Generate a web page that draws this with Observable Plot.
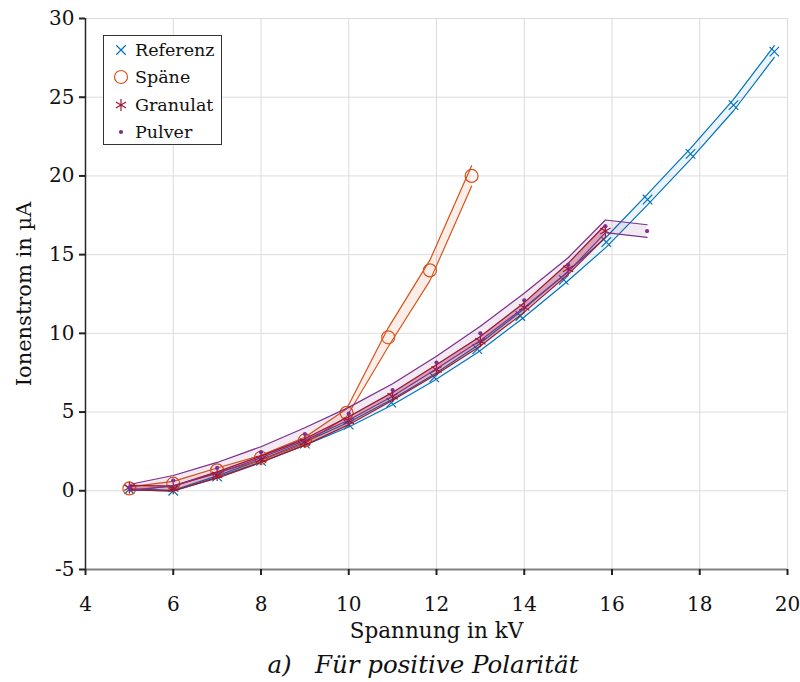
<!DOCTYPE html>
<html>
<head>
<meta charset="utf-8">
<script src="https://cdn.jsdelivr.net/npm/d3@7"></script>
<script src="https://cdn.jsdelivr.net/npm/@observablehq/plot@0.6"></script>
<style>
  body { margin: 0; background: #fff; font-family: "DejaVu Serif", serif; }
  #wrap { position: relative; width: 800px; height: 682px; }
  #legend { position: absolute; left: 103px; top: 35px; width: 117px; height: 108px;
            border: 1px solid #333; background: #fff; }
  .item { position: absolute; left: 0; height: 20px; display: flex; align-items: center; }
  .item span { font-size: 17.5px; color: #111; margin-left: 5px; }
  #caption { position: absolute; top: 650px; left: 0; width: 846px; text-align: center;
             font-style: italic; font-size: 24.5px; color: #111; }
</style>
</head>
<body>
<div id="wrap">
  <div id="chart"></div>
  <div id="legend"></div>
  <div id="caption">a)&nbsp;&nbsp;&nbsp;Für positive Polarität</div>
</div>
<script>
// ---- data ----
const series = ["Referenz", "Späne", "Granulat", "Pulver"];

const refX   = [5, 6, 7, 8, 9, 10, 10.97, 11.95, 12.93, 13.91, 14.9, 15.87, 16.81, 17.79, 18.77, 19.7];
const refY   = [0.1, 0.0, 0.9, 1.9, 3.0, 4.2, 5.6, 7.2, 9.0, 11.1, 13.4, 15.8, 18.5, 21.4, 24.5, 27.9];
const refErr = [0.03, 0.03, 0.05, 0.07, 0.1, 0.15, 0.18, 0.2, 0.23, 0.27, 0.3, 0.32, 0.34, 0.35, 0.36, 0.37];

const spX   = [5, 6, 7, 8, 9, 9.95, 10.9, 11.85, 12.8];
const spY   = [0.15, 0.45, 1.3, 2.1, 3.2, 4.95, 9.75, 14.0, 20.0];
const spErr = [0.1, 0.15, 0.15, 0.15, 0.2, 0.25, 0.6, 0.65, 0.65];

const grX   = [5, 6, 7, 8, 9, 10, 11, 12, 13, 14, 15, 15.85];
const grY   = [0.2, 0.15, 1.0, 2.0, 3.1, 4.45, 6.0, 7.7, 9.5, 11.65, 14.1, 16.5];
const grErr = [0.15, 0.15, 0.2, 0.2, 0.2, 0.25, 0.25, 0.3, 0.3, 0.3, 0.35, 0.4];

const puX   = [5, 6, 7, 8, 9, 10, 11, 12, 13, 14, 15, 15.85, 16.8];
const puY   = [0.2, 0.65, 1.45, 2.45, 3.6, 4.9, 6.4, 8.15, 10.0, 12.1, 14.35, 16.8, 16.5];
const puErr = [0.2, 0.32, 0.35, 0.35, 0.4, 0.4, 0.4, 0.4, 0.45, 0.45, 0.45, 0.4, 0.4];

const xTicks = [4, 6, 8, 10, 12, 14, 16, 18, 20];
const yTicks = [-5, 0, 5, 10, 15, 20, 25, 30];

// ---- styles ----
const styles = {
  "Referenz": { stroke: "#0072BD", fill: "rgba(0,114,189,0.08)", symbol: "times",    r: 4.4, mfill: "none" },
  "Späne":    { stroke: "#D95319", fill: "rgba(217,83,25,0.10)", symbol: "circle",   r: 6.5, mfill: "none" },
  "Granulat": { stroke: "#A2142F", fill: "rgba(162,20,47,0.32)", symbol: "asterisk", r: 5.6, mfill: "none" },
  "Pulver":   { stroke: "#7E2F8E", fill: "rgba(126,47,142,0.10)", symbol: "circle",  r: 2.1, mfill: "#7E2F8E" }
};

function rows(name, xs, ys, es) {
  return xs.map((x, i) => ({ s: name, x, y: ys[i], lo: ys[i] - es[i], hi: ys[i] + es[i] }));
}
const data = {
  "Referenz": rows("Referenz", refX, refY, refErr),
  "Späne": rows("Späne", spX, spY, spErr),
  "Granulat": rows("Granulat", grX, grY, grErr),
  "Pulver": rows("Pulver", puX, puY, puErr)
};

const marks = [
  Plot.gridX(xTicks, { stroke: "#dcdcdc", strokeOpacity: 1, strokeWidth: 1 }),
  Plot.gridY(yTicks, { stroke: "#dcdcdc", strokeOpacity: 1, strokeWidth: 1 })
];
for (const name of series) {
  const st = styles[name], d = data[name];
  marks.push(Plot.areaY(d, { x: "x", y1: "lo", y2: "hi", fill: st.fill }));
  marks.push(Plot.line(d, { x: "x", y: "lo", stroke: st.stroke, strokeWidth: 1.2 }));
  marks.push(Plot.line(d, { x: "x", y: "hi", stroke: st.stroke, strokeWidth: 1.2 }));
  if (name === "Pulver") {
    marks.push(Plot.dot(d, { x: "x", y: "y", r: st.r, fill: st.mfill, stroke: "none" }));
  } else {
    marks.push(Plot.dot(d, { x: "x", y: "y", symbol: st.symbol, r: st.r, stroke: st.stroke, fill: "none", strokeWidth: 1.2 }));
  }
}
marks.push(Plot.ruleY([-5], { stroke: "#808080", strokeWidth: 2 }));
marks.push(Plot.ruleX([4], { stroke: "#262626", strokeWidth: 1.5 }));
marks.push(Plot.axisX(xTicks, { tickSize: 6, tickPadding: 21, fontSize: 20, label: null, stroke: "#222", strokeWidth: 2 }));
marks.push(Plot.axisY(yTicks, { tickSize: 6, tickPadding: 5, fontSize: 20, label: null, stroke: "#222", strokeWidth: 2,
  tickFormat: d => d < 0 ? "-" + Math.abs(d) : String(d) }));
marks.push(Plot.text(["Spannung in kV"], { frameAnchor: "bottom", dy: 68, fontSize: 21.5, fill: "#111" }));
marks.push(Plot.text(["Ionenstrom in µA"], { frameAnchor: "left", textAnchor: "middle", dx: -61, rotate: -90, fontSize: 21, fill: "#111" }));

const chart = Plot.plot({
  width: 800,
  height: 650,
  marginLeft: 85,
  marginRight: 13,
  marginTop: 18,
  marginBottom: 81,
  style: { fontFamily: "DejaVu Serif", color: "#111", background: "#fff", overflow: "visible" },
  x: { domain: [4, 20] },
  y: { domain: [-5, 30] },
  marks
});
document.getElementById("chart").appendChild(chart);

// ---- legend ----
const legend = document.getElementById("legend");
const ns = "http://www.w3.org/2000/svg";
series.forEach((name, i) => {
  const st = styles[name];
  const item = document.createElement("div");
  item.className = "item";
  item.style.top = (4 + i * 27.3) + "px";
  item.style.left = "8px";
  const svg = document.createElementNS(ns, "svg");
  svg.setAttribute("width", 18); svg.setAttribute("height", 20);
  const g = document.createElementNS(ns, "g");
  g.setAttribute("transform", "translate(9,10)");
  const sym = d3.symbol(
    name === "Referenz" ? d3.symbolTimes : name === "Granulat" ? d3.symbolAsterisk : d3.symbolCircle,
    Math.PI * st.r * st.r)();
  const p = document.createElementNS(ns, "path");
  p.setAttribute("d", sym);
  if (name === "Pulver") { p.setAttribute("fill", st.mfill); }
  else { p.setAttribute("fill", "none"); p.setAttribute("stroke", st.stroke); p.setAttribute("stroke-width", 1.2); }
  g.appendChild(p); svg.appendChild(g); item.appendChild(svg);
  const t = document.createElement("span"); t.textContent = name; item.appendChild(t);
  legend.appendChild(item);
});
</script>
</body>
</html>
